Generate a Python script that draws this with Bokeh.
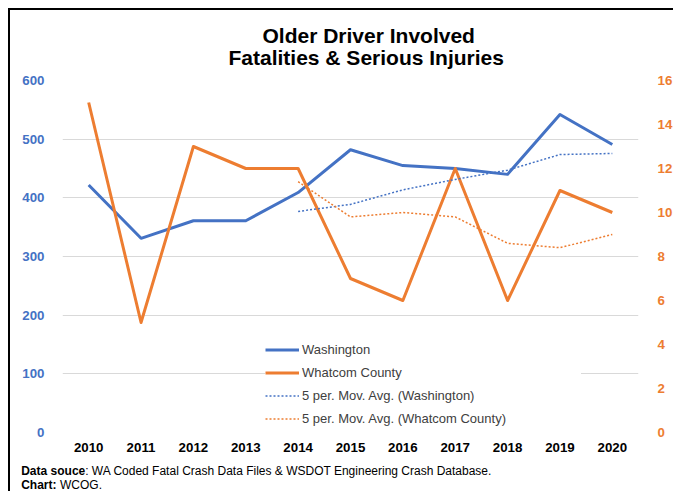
from bokeh.plotting import figure
from bokeh.layouts import column
from bokeh.models import (FactorRange, Range1d, LinearAxis, FixedTicker, Legend,
                          LegendItem, Title, Plot, Div)
from bokeh.core.properties import value
from bokeh.embed import file_html
from bokeh.resources import INLINE

years = ["2010", "2011", "2012", "2013", "2014", "2015", "2016", "2017", "2018", "2019", "2020"]
washington = [422, 331, 361, 361, 409, 482, 455, 450, 440, 542, 491]
whatcom = [15, 5, 13, 12, 12, 7, 6, 12, 6, 11, 10]
ma_years = ["2014", "2015", "2016", "2017", "2018", "2019", "2020"]
washington_ma = [376.8, 388.8, 413.6, 431.4, 447.2, 473.8, 475.6]
whatcom_ma = [11.4, 9.8, 10.0, 9.8, 8.6, 8.4, 9.0]
left_ticks = [0, 100, 200, 300, 400, 500, 600]
right_ticks = [0, 2, 4, 6, 8, 10, 12, 14, 16]

BLUE = "#4472C4"
ORANGE = "#ED7D31"
FONT = "Liberation Sans"
TICK_SIZE = "13.3px"
HAS_FRAME_ALIGN = "frame_align" in Plot.properties()

p = figure(x_range=FactorRange(*years), y_range=Range1d(0, 600),
           width=665, height=450, output_backend="svg", toolbar_location=None,
           min_border_left=52, min_border_right=30, min_border_top=70,
           min_border_bottom=28)
p.styles = {"margin-left": "8px", "margin-top": "8px",
            "border-left": "2px solid black", "border-top": "2px solid black"}
p.outline_line_color = None
p.background_fill_color = "white"
p.border_fill_color = "white"
if HAS_FRAME_ALIGN:
    p.frame_align = False

# two-line title (outer line first, then inner line next to the frame)
p.title.text = "Older Driver Involved"
p.title.align = "left"
p.title.offset = 200
p.title.vertical_align = "bottom"
p.title.standoff = -20
p.title.text_font = FONT
p.title.text_font_size = "21px"
p.title.text_font_style = "bold"
p.title.text_color = "black"
p.add_layout(Title(text="Fatalities & Serious Injuries", align="left", offset=166,
                   vertical_align="top", standoff=19,
                   text_font=FONT, text_font_size="21px", text_font_style="bold",
                   text_color="black"), "above")

p.extra_y_ranges = {"whatcom": Range1d(0, 16)}

p.xaxis.major_label_text_font = FONT
p.xaxis.major_label_text_font_size = TICK_SIZE
p.xaxis.major_label_text_font_style = "bold"
p.xaxis.major_label_text_color = "black"
p.xaxis.axis_line_color = None
p.xaxis.major_tick_line_color = None
p.xaxis.minor_tick_line_color = None
p.xaxis.major_label_standoff = 4
p.xgrid.grid_line_color = None

p.yaxis.ticker = FixedTicker(ticks=left_ticks)
p.yaxis.major_label_text_font = FONT
p.yaxis.major_label_text_font_size = TICK_SIZE
p.yaxis.major_label_text_font_style = "bold"
p.yaxis.major_label_text_color = BLUE
p.yaxis.axis_line_color = None
p.yaxis.major_tick_line_color = None
p.yaxis.minor_tick_line_color = None
p.yaxis.major_label_standoff = 12
p.ygrid.grid_line_color = "#D9D9D9"
p.ygrid.grid_line_width = 1

ax2 = LinearAxis(y_range_name="whatcom", ticker=FixedTicker(ticks=right_ticks))
ax2.major_label_text_font = FONT
ax2.major_label_text_font_size = TICK_SIZE
ax2.major_label_text_font_style = "bold"
ax2.major_label_text_color = ORANGE
ax2.axis_line_color = None
ax2.major_tick_line_color = None
ax2.minor_tick_line_color = None
ax2.major_label_standoff = 13
p.add_layout(ax2, "right")

r1 = p.line(years, washington, color=BLUE, line_width=3, line_join="round")
r2 = p.line(years, whatcom, y_range_name="whatcom", color=ORANGE, line_width=3,
            line_join="round")
r3 = p.line(ma_years, washington_ma, color=BLUE, line_width=1.5, line_dash="2 2")
r4 = p.line(ma_years, whatcom_ma, y_range_name="whatcom", color=ORANGE,
            line_width=1.5, line_dash="2 2")

legend = Legend(items=[
    LegendItem(label="Washington", renderers=[r1]),
    LegendItem(label="Whatcom County", renderers=[r2]),
    LegendItem(label="5 per. Mov. Avg. (Washington)", renderers=[r3]),
    LegendItem(label="5 per. Mov. Avg. (Whatcom County)", renderers=[r4]),
], location=(203, 3), background_fill_color="white", background_fill_alpha=1.0,
    border_line_color=None, padding=0, spacing=2, glyph_width=34, glyph_height=21,
    label_height=21, label_width=279, label_standoff=3, label_text_font=FONT,
    label_text_font_size="13px", label_text_color="#404040")
p.add_layout(legend)

# footnote strip below the chart
if HAS_FRAME_ALIGN:
    foot = figure(width=665, height=33, output_backend="svg", toolbar_location=None,
                  x_range=Range1d(0, 665), y_range=Range1d(33, 0),
                  min_border=0, x_axis_type=None, y_axis_type=None)
    foot.frame_align = False
    foot.styles = {"margin-left": "8px", "border-left": "2px solid black"}
    foot.outline_line_color = None
    foot.xgrid.grid_line_color = None
    foot.ygrid.grid_line_color = None
    foot.border_fill_color = "white"
    foot.background_fill_color = "white"
    ftxt = dict(text_font=value(FONT), text_font_size="12px", text_baseline="middle",
                text_color="black")
    foot.text(x=[10.7, 10.7], y=[12.8, 26.3], text=["Data souce", "Chart:"],
              text_font_style="bold", **ftxt)
    foot.text(x=[74.7, 49.5], y=[12.8, 26.3],
              text=[": WA Coded Fatal Crash Data Files & WSDOT Engineering Crash Database.",
                    "WCOG."], **ftxt)
else:
    foot = Div(text="<b>Data souce</b>: WA Coded Fatal Crash Data Files &amp; WSDOT "
                    "Engineering Crash Database.<br><b>Chart:</b> WCOG.",
               width=665, height=33,
               styles={"margin-left": "8px", "border-left": "2px solid black",
                       "font-family": FONT, "font-size": "12px", "line-height": "14px",
                       "padding-left": "10px", "padding-top": "5px", "color": "black"})

page = column(p, foot, spacing=0)
open("out.html", "w").write(file_html(page, INLINE))
